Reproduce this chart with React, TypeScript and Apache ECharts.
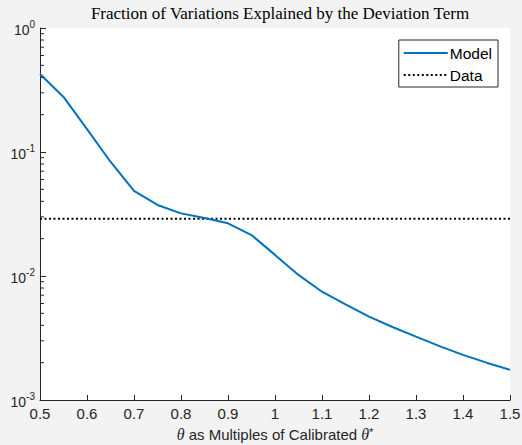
import React, { useEffect, useRef } from "react";
import * as echarts from "echarts";

const xValues = [0.5, 0.55, 0.6, 0.65, 0.7, 0.75, 0.8, 0.85, 0.9, 0.95, 1.0, 1.05, 1.1, 1.15, 1.2, 1.25, 1.3, 1.35, 1.4, 1.45, 1.5];
const modelValues = [0.426, 0.278, 0.153, 0.0835, 0.0485, 0.0374, 0.032, 0.0294, 0.0266, 0.0214, 0.0148, 0.0102, 0.00747, 0.0059, 0.0047, 0.00388, 0.00324, 0.00272, 0.00231, 0.002, 0.00175];
const dataValue = 0.029;
const minorTickValues = [2, 3, 4, 5, 6, 7, 8, 9].flatMap((m) => [0.001, 0.01, 0.1].map((d) => m * d));

const AX = "#262626";

export default function App() {
  const ref = useRef<HTMLDivElement>(null);
  useEffect(() => {
    const chart = echarts.init(ref.current!, undefined, { renderer: "svg" });
    chart.setOption({
      animation: false,
      backgroundColor: "#f3f3f3",
      title: {
        text: "Fraction of Variations Explained by the Deviation Term",
        left: 275,
        textAlign: "center",
        top: 0,
        textStyle: { fontFamily: "Liberation Serif", fontSize: 17, fontWeight: "normal", color: "#000" },
      },
      legend: {
        orient: "vertical",
        right: 24,
        top: 40,
        backgroundColor: "#fff",
        borderColor: AX,
        borderWidth: 1,
        borderRadius: 0,
        padding: [5, 6, 4, 4],
        itemGap: 6,
        itemWidth: 44,
        itemHeight: 14,
        itemStyle: { opacity: 0 },
        textStyle: { fontFamily: "Liberation Sans", fontSize: 15.5, color: "#000", padding: [0, 0, 0, -3] },
        data: ["Model", "Data"],
      },
      grid: {
        left: 40,
        right: 12,
        top: 28,
        bottom: 45,
        show: true,
        backgroundColor: "#fff",
        borderWidth: 0,
        outerBoundsMode: "none",
        containLabel: false,
      },
      xAxis: {
        type: "value",
        min: 0.5,
        max: 1.5,
        interval: 0.1,
        name: "{it|θ} as Multiples of Calibrated {it|θ}{sup|*}",
        nameLocation: "middle",
        nameGap: 26,
        nameTextStyle: {
          fontFamily: "Liberation Sans",
          fontSize: 15,
          color: AX,
          rich: {
            it: { fontFamily: "Liberation Serif", fontStyle: "italic", fontSize: 16, color: AX },
            sup: { fontFamily: "Liberation Sans", fontSize: 11, verticalAlign: "top", color: AX, padding: [0, 0, 3, 0] },
          },
        },
        axisLine: { show: true, lineStyle: { color: AX, width: 1 } },
        axisTick: { show: true, inside: true, length: 5, lineStyle: { color: AX } },
        axisLabel: {
          fontFamily: "Liberation Sans",
          fontSize: 15,
          color: AX,
          margin: 6,
          formatter: (v: number) => String(Math.round(v * 10) / 10),
        },
        splitLine: { show: false },
      },
      yAxis: {
        type: "log",
        logBase: 10,
        min: 0.001,
        max: 1,
        axisLine: { show: true, lineStyle: { color: AX, width: 1 } },
        axisTick: { show: true, inside: true, length: 6, lineStyle: { color: AX } },
        axisLabel: {
          fontFamily: "Liberation Sans",
          fontSize: 14,
          color: AX,
          margin: 5,
          formatter: (v: number) => `{b|10}{sup|${Math.round(Math.log10(v))}}`,
          rich: {
            b: { fontFamily: "Liberation Sans", fontSize: 14, color: AX, padding: [4, 0, 0, 0] },
            sup: { fontFamily: "Liberation Sans", fontSize: 10, color: AX, verticalAlign: "top", padding: [0, 0, 4, 0] },
          },
        },
        splitLine: { show: false },
      },
      series: [
        {
          name: "Model",
          type: "line",
          data: xValues.map((x, i) => [x, modelValues[i]]),
          symbol: "none",
          lineStyle: { color: "#0072BD", width: 2 },
          itemStyle: { color: "#0072BD" },
          z: 3,
        },
        {
          name: "Data",
          type: "line",
          data: [[0.5, dataValue], [1.5, dataValue]],
          symbol: "none",
          lineStyle: { color: "#000", width: 2, type: [2, 2.5] },
          itemStyle: { color: "#000" },
          z: 2,
        },
        {
          name: "minorTicks",
          type: "custom",
          silent: true,
          data: minorTickValues.map((v) => [0.5, v]),
          renderItem: (params: any, api: any) => {
            const p = api.coord([api.value(0), api.value(1)]);
            return {
              type: "line",
              shape: { x1: p[0], y1: p[1], x2: p[0] + 4, y2: p[1] },
              style: { stroke: AX, lineWidth: 1 },
            };
          },
          z: 4,
        },
      ],
    });
    return () => chart.dispose();
  }, []);
  return <div ref={ref} style={{ width: 522, height: 445, position: "absolute", left: 0, top: 0 }} />;
}
